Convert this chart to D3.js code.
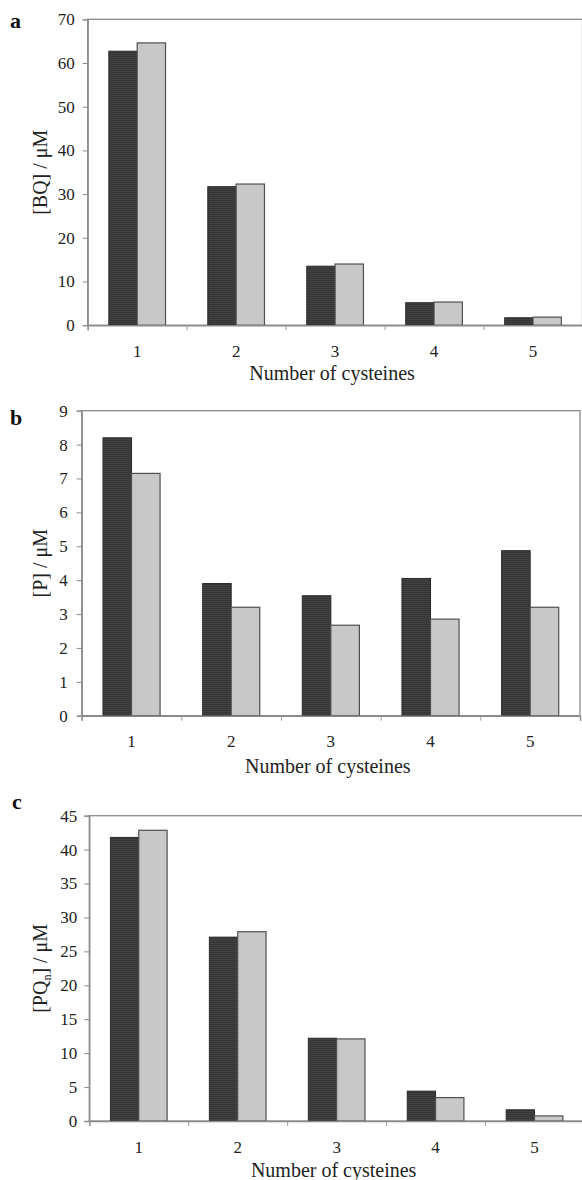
<!DOCTYPE html>
<html>
<head>
<meta charset="utf-8">
<script src="https://cdn.jsdelivr.net/npm/d3@7"></script>
<style>
  body { margin: 0; background: #fff; }
  svg { display: block; }
</style>
</head>
<body>
<svg id="drawing_region"></svg>
<script>
// values
const categories = [1, 2, 3, 4, 5];
const bqDark  = [62.7, 31.7, 13.5, 5.15, 1.7];
const bqLight = [64.6, 32.3, 14.0, 5.3, 1.85];
const pDark   = [8.2, 3.9, 3.54, 4.05, 4.87];
const pLight  = [7.15, 3.2, 2.67, 2.85, 3.2];
const pqDark  = [41.8, 27.1, 12.2, 4.4, 1.65];
const pqLight = [42.85, 27.9, 12.1, 3.45, 0.75];
const yTicksA = [0, 10, 20, 30, 40, 50, 60, 70];
const yTicksB = [0, 1, 2, 3, 4, 5, 6, 7, 8, 9];
const yTicksC = [0, 5, 10, 15, 20, 25, 30, 35, 40, 45];
const xTitle = 'Number of cysteines';

const svg = d3.select('#drawing_region')
    .attr('width', 582)
    .attr('height', 1180);

// dark bars have a fine texture
const defs = svg.append('defs');
const pat = defs.append('pattern')
    .attr('id', 'darkfill')
    .attr('patternUnits', 'userSpaceOnUse')
    .attr('width', 2)
    .attr('height', 2);
pat.append('rect').attr('width', 2).attr('height', 2).attr('fill', '#454545');
pat.append('rect').attr('width', 2).attr('height', 1).attr('fill', '#333');
pat.append('rect').attr('width', 1).attr('height', 2).attr('fill', '#3a3a3a').attr('opacity', 0.6);

class BarChart {
    constructor(config, dark, light) {
        this.config = config;
        this.data = categories.map((c, i) => ({ cat: c, dark: dark[i], light: light[i] }));
        this.init();
    }
    init() {
        let self = this;
        let c = self.config;
        self.chart = svg.append('g');
        self.width = c.right - c.left;
        self.height = c.bottom - c.top;

        self.xscale = d3.scaleBand()
            .domain(categories)
            .range([c.left, c.right]);
        self.xline = d3.scaleLinear()
            .domain([0, categories.length])
            .range([c.left, c.right]);
        self.yscale = d3.scaleLinear()
            .domain([0, d3.max(c.ticks)])
            .range([c.bottom, c.top]);
        self.render();
    }
    render() {
        let self = this;
        let c = self.config;
        const font = '"Liberation Serif", "Times New Roman", serif';
        const bw = self.xscale.bandwidth() * 0.2864;   // Excel gap width 75%
        const gap = (self.xscale.bandwidth() - 2 * bw) / 2;

        // plot box
        self.chart.append('rect')
            .attr('x', c.left)
            .attr('y', c.top)
            .attr('width', self.width)
            .attr('height', self.height)
            .attr('fill', 'none')
            .attr('stroke', '#8a8a8a')
            .attr('stroke-width', 1.3);

        // bars
        self.chart.selectAll('.dark')
            .data(self.data)
            .enter()
            .append('rect')
            .attr('x', d => self.xscale(d.cat) + gap)
            .attr('y', d => self.yscale(d.dark))
            .attr('width', bw)
            .attr('height', d => self.yscale(0) - self.yscale(d.dark))
            .attr('fill', 'url(#darkfill)')
            .attr('stroke', '#2a2a2a')
            .attr('stroke-width', 1);

        self.chart.selectAll('.light')
            .data(self.data)
            .enter()
            .append('rect')
            .attr('x', d => self.xscale(d.cat) + gap + bw)
            .attr('y', d => self.yscale(d.light))
            .attr('width', bw)
            .attr('height', d => self.yscale(0) - self.yscale(d.light))
            .attr('fill', '#c8c8c8')
            .attr('stroke', '#505050')
            .attr('stroke-width', 1.2);

        // y axis
        const yaxis = d3.axisLeft(self.yscale)
            .tickValues(c.ticks)
            .tickSize(5)
            .tickPadding(c.pad)
            .tickFormat(d3.format('d'));
        const yg = self.chart.append('g')
            .attr('transform', `translate(${c.left}, 0)`)
            .call(yaxis);
        yg.select('.domain').attr('stroke', '#8a8a8a').attr('stroke-width', 1.3);
        yg.selectAll('.tick line').attr('stroke', '#8a8a8a');
        yg.selectAll('.tick text')
            .attr('font-family', font)
            .attr('font-size', '17px')
            .attr('fill', '#222');

        // x axis: ticks at category boundaries
        const xaxis = d3.axisBottom(self.xline)
            .tickValues(d3.range(categories.length + 1))
            .tickSize(5)
            .tickFormat('');
        const xg = self.chart.append('g')
            .attr('transform', `translate(0, ${c.bottom})`)
            .call(xaxis);
        xg.select('.domain').attr('stroke', '#8a8a8a').attr('stroke-width', 1.6);
        xg.selectAll('.tick line').attr('stroke', '#9a9a9a');

        self.chart.selectAll('.xlabel')
            .data(categories)
            .enter()
            .append('text')
            .attr('x', d => self.xscale(d) + self.xscale.bandwidth() / 2)
            .attr('y', c.bottom + 31.5)
            .attr('text-anchor', 'middle')
            .attr('font-family', font)
            .attr('font-size', '17px')
            .attr('fill', '#222')
            .text(d => d);

        self.chart.append('text')
            .attr('x', (c.left + c.right) / 2 - 3)
            .attr('y', c.bottom + c.titleDy)
            .attr('text-anchor', 'middle')
            .attr('font-family', font)
            .attr('font-size', '20px')
            .attr('fill', '#222')
            .text(xTitle);

        // y title
        const yt = self.chart.append('text')
            .attr('transform', `translate(47, ${(c.top + c.bottom) / 2}) rotate(-90)`)
            .attr('text-anchor', 'middle')
            .attr('font-family', font)
            .attr('font-size', '20px')
            .attr('fill', '#222');
        yt.append('tspan').text(c.ylabel[0]);
        if (c.ylabel[1]) {
            yt.append('tspan').text(c.ylabel[1])
                .attr('font-size', '12px')
                .attr('dy', 4);
            yt.append('tspan').text(c.ylabel[2])
                .attr('dy', -4);
        }

        // panel letter
        self.chart.append('text')
            .attr('x', c.letterX)
            .attr('y', c.letterY)
            .attr('font-family', font)
            .attr('font-weight', 'bold')
            .attr('font-size', '22px')
            .attr('fill', '#111')
            .text(c.letter);
    }
}

new BarChart({ left: 87.7, right: 582.5, top: 19.3, bottom: 325.2, ticks: yTicksA, pad: 8,
    ylabel: ['[BQ] / μM'], letter: 'a', letterX: 10, letterY: 28, titleDy: 55 }, bqDark, bqLight);

new BarChart({ left: 81.7, right: 580, top: 410.7, bottom: 715.7, ticks: yTicksB, pad: 9,
    ylabel: ['[P] / μM'], letter: 'b', letterX: 10, letterY: 425, titleDy: 57.6 }, pDark, pLight);

new BarChart({ left: 89.3, right: 584, top: 815.7, bottom: 1121, ticks: yTicksC, pad: 7,
    ylabel: ['[PQ', 'n', '] / μM'], letter: 'c', letterX: 12, letterY: 809, titleDy: 55.5 }, pqDark, pqLight);
</script>
</body>
</html>
